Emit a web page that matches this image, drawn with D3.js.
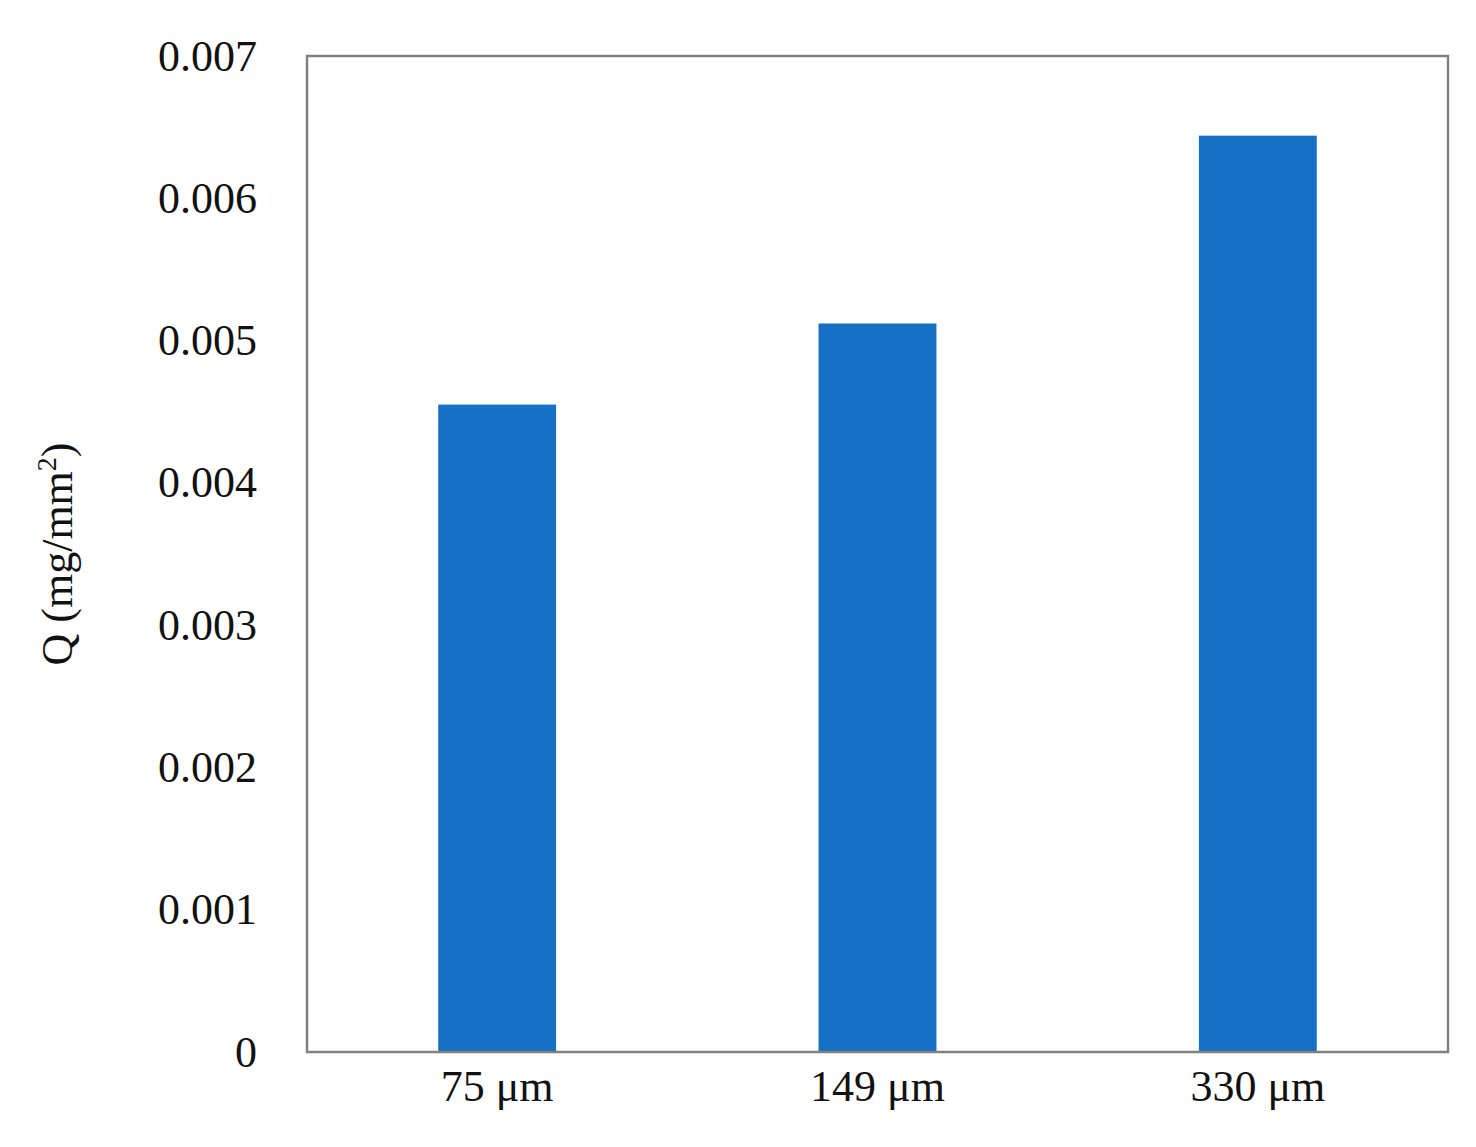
<!DOCTYPE html>
<html>
<head>
	<script src="https://d3js.org/d3.v7.min.js"></script>
	<style>body{margin:0;background:#fff}</style>
</head>
<body>
<script>
	// bar chart data
	var categories = ["75 μm", "149 μm", "330 μm"];
	var values = [0.00455, 0.00512, 0.00644];
	var yTicks = [0, 0.001, 0.002, 0.003, 0.004, 0.005, 0.006, 0.007];

	var W = 1476, H = 1147;
	var m = {left: 307, right: 28, top: 56, bottom: 95};
	var font = "'Liberation Serif', 'DejaVu Serif', serif";

	var svg = d3.select("body").append("svg").attr("width", W).attr("height", H);

	var x = d3.scaleBand().domain(categories).range([m.left, W - m.right]).padding(0);
	var y = d3.scaleLinear().domain([0, 0.007]).range([H - m.bottom, m.top]);
	var bw = x.bandwidth() * 0.31;

	svg.selectAll("rect.bar").data(values).enter().append("rect")
		.attr("class", "bar")
		.attr("x", function (d, i) { return x(categories[i]) + x.bandwidth() / 2 - bw / 2; })
		.attr("y", function (d) { return y(d); })
		.attr("width", bw)
		.attr("height", function (d) { return y(0) - y(d); })
		.attr("fill", "#1570c6");

	// frame
	svg.append("rect")
		.attr("x", m.left).attr("y", m.top)
		.attr("width", W - m.right - m.left).attr("height", H - m.bottom - m.top)
		.attr("fill", "none").attr("stroke", "#808080").attr("stroke-width", 2.5);

	var yAxis = svg.append("g").attr("transform", "translate(" + m.left + ",0)")
		.call(d3.axisLeft(y).tickValues(yTicks).tickSize(0).tickPadding(50)
			.tickFormat(function (d) { return d === 0 ? "0" : d3.format(".3f")(d); }));
	yAxis.select(".domain").remove();
	yAxis.selectAll("text").attr("font-family", font).attr("font-size", 44).attr("fill", "#111");

	var xAxis = svg.append("g").attr("transform", "translate(0," + (H - m.bottom) + ")")
		.call(d3.axisBottom(x).tickSize(0).tickPadding(18));
	xAxis.select(".domain").remove();
	xAxis.selectAll("text").attr("font-family", font).attr("font-size", 44).attr("fill", "#111");

	var t = svg.append("text")
		.attr("transform", "translate(72," + ((m.top + H - m.bottom) / 2) + ") rotate(-90)")
		.attr("text-anchor", "middle")
		.attr("font-family", font).attr("font-size", 44).attr("fill", "#111");
	t.append("tspan").text("Q (mg/mm");
	t.append("tspan").attr("font-size", 28).attr("dy", -16).text("2");
	t.append("tspan").attr("dy", 16).text(")");
</script>
</body>
</html>
